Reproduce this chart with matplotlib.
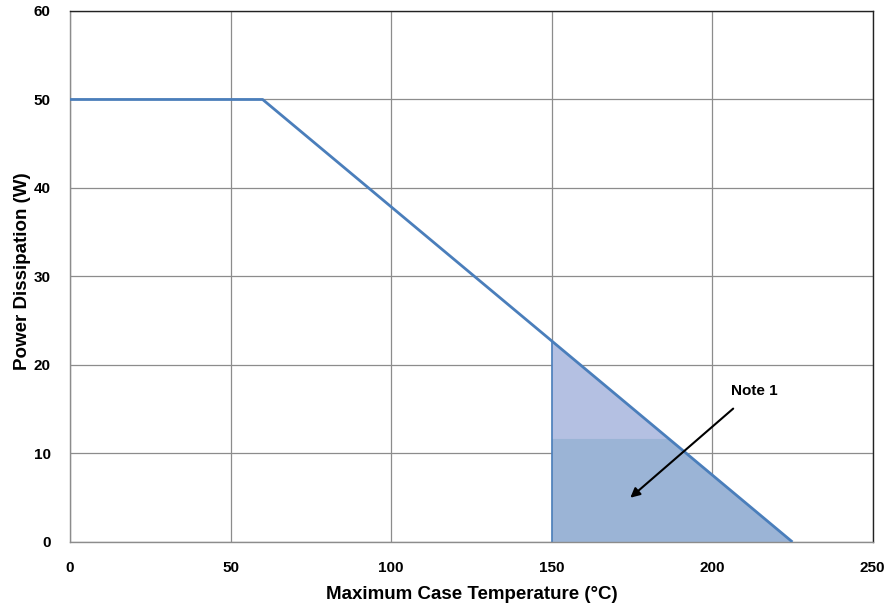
import matplotlib
matplotlib.use("Agg")
import matplotlib.pyplot as plt
import numpy as np

plt.rcParams['font.family'] = ['Liberation Sans', 'DejaVu Sans']

# Data
curve_x = [0, 60, 225]
curve_y = [50, 50, 0]
shade_x = [150, 225]
xticks = [0, 50, 100, 150, 200, 250]
yticks = [0, 10, 20, 30, 40, 50, 60]
note_text = "Note 1"
note_xy = (174.5, 5.0)
note_text_xy = (213, 17.1)
band_y = 11.7

fig = plt.figure(figsize=(8.89, 6.1), dpi=100)
ax = fig.add_axes([0.0787, 0.1115, 0.9030, 0.8705])

line_color = '#4a7ebb'

# shaded region under curve from 150 to 225
xs = np.linspace(shade_x[0], shade_x[1], 200)
ys = np.interp(xs, curve_x, curve_y)
ax.fill_between(xs, 0, ys, color='#9bb4d6', linewidth=0, zorder=2)
ax.fill_between(xs, band_y, np.maximum(ys, band_y), where=ys > band_y,
                color='#b4c0e2', linewidth=0, zorder=2.1)
ax.plot([shade_x[0], shade_x[0]], [0, np.interp(shade_x[0], curve_x, curve_y)],
        color=line_color, lw=1.2, zorder=2.2)

ax.plot(curve_x, curve_y, color=line_color, lw=2.0, zorder=3, solid_capstyle='butt')

ax.set_xlim(0, 250)
ax.set_ylim(0, 60)
ax.set_xticks(xticks)
ax.set_yticks(yticks)
ax.grid(True, color='#8c8c8c', lw=0.9)
ax.set_axisbelow(True)
ax.tick_params(length=0, labelsize=11, pad=14)
for lab in ax.get_xticklabels() + ax.get_yticklabels():
    lab.set_fontweight('bold')

for s in ['left', 'bottom']:
    ax.spines[s].set_color('#8c8c8c')
    ax.spines[s].set_linewidth(1.0)
for s in ['top', 'right']:
    ax.spines[s].set_color('#222222')
    ax.spines[s].set_linewidth(1.0)

ax.set_xlabel('Maximum Case Temperature (°C)', fontsize=13.5, fontweight='bold')
ax.set_ylabel('Power Dissipation (W)', fontsize=13.5, fontweight='bold')
ax.xaxis.set_label_coords(0.5, -0.082)
ax.yaxis.set_label_coords(-0.049, 0.51)

ax.annotate(note_text, xy=note_xy, xytext=note_text_xy, fontsize=11, fontweight='bold',
            ha='center', va='center', zorder=5,
            arrowprops=dict(arrowstyle='-|>', color='black', lw=1.5,
                            shrinkA=9, shrinkB=0, mutation_scale=14))

fig.savefig('out.png', dpi=100)
